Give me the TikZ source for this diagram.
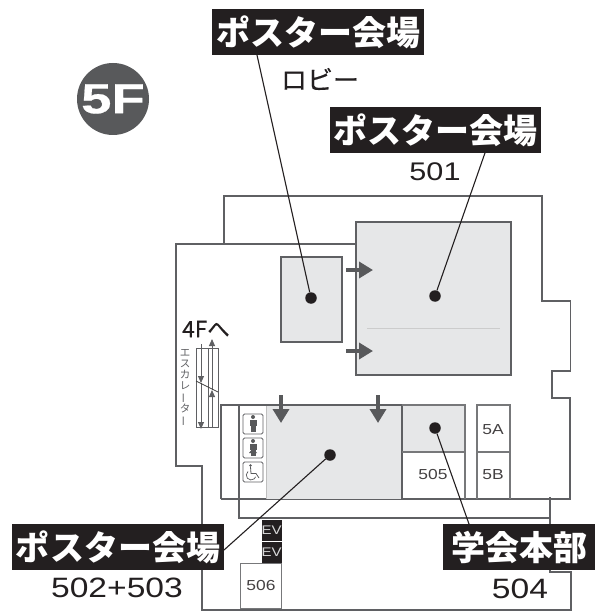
\documentclass[tikz,border=0pt]{standalone}
\usepackage{fontspec}
\usepackage{graphicx}
\newfontfamily\jpfont{Noto Sans CJK JP}
\newfontfamily\jpmid[FakeBold=0.35]{Noto Sans CJK JP}
\newfontfamily\numfont[FakeStretch=1.2]{Liberation Sans}
\newfontfamily\markfont[FakeStretch=1.3,FakeBold=0.5]{Liberation Sans}
\definecolor{wallgray}{HTML}{5F6063}
\definecolor{roomgray}{HTML}{E6E7E8}
\definecolor{markgray}{HTML}{58595B}
\definecolor{inkblack}{HTML}{231F20}
\usetikzlibrary{arrows.meta}
\tikzset{
    wall/.style={draw=wallgray,line width=1.15pt},
    thinwall/.style={draw=wallgray!85,line width=1.05pt},
    room/.style={wall,fill=roomgray},
    tag/.style={fill=inkblack,text=white,inner sep=0pt,minimum height=46pt,font=\jpfont\bfseries\fontsize{34}{34}\selectfont},
    pin/.style={circle,fill=inkblack,inner sep=0pt,minimum size=11.5pt},
    pinline/.style={draw=inkblack,line width=1.1pt},
    flow/.style={draw=markgray,line width=3.6pt,-{Triangle[length=14pt,width=16pt]}},
    number/.style={text=inkblack,inner sep=0pt,font=\numfont\fontsize{28}{28}\selectfont},
    smallnumber/.style={text=inkblack!85,inner sep=0pt,font=\numfont\fontsize{14.5}{14.5}\selectfont},
    wcbox/.style={draw=wallgray,line width=0.8pt,rounded corners=1.5pt,minimum size=20pt,inner sep=0pt},
    evbox/.style={fill=inkblack,text=white!85!black,inner sep=0pt,minimum width=19pt,minimum height=20.5pt,font=\numfont\fontsize{12.5}{12.5}\selectfont},
    lift/.style={draw=wallgray,line width=1pt},
    liftarrow/.style={draw=wallgray,line width=1pt,-{Triangle[length=7pt,width=6pt]}}
}
\newcommand{\person}[2]{%
    \fill[markgray] (#1,#2-7) circle (2);
    \fill[markgray] (#1-3.5,#2-4.5) rectangle (#1+3.5,#2+2);
    \fill[markgray] (#1-2.5,#2+2) rectangle (#1-0.4,#2+8);
    \fill[markgray] (#1+0.4,#2+2) rectangle (#1+2.5,#2+8);
}
\begin{document}
\begin{tikzpicture}[x=1pt,y=-1pt]
    \useasboundingbox (0,0) rectangle (602,612);
    % outline of the floor
    \draw[wall] (224,244) -- (224,196) -- (542,196) -- (542,301) -- (570.5,301) -- (570.5,371) -- (552,371) -- (552,398) -- (570,398) -- (570,499) -- (221,499);
    \draw[wall] (356,244) -- (176,244) -- (176,466) -- (202,466) -- (202,610) -- (571,610) -- (571,572) -- (550,572) -- (550,497);
    \draw[wall] (239,499) -- (239,518) -- (550,518);
    % rooms
    \filldraw[room] (356,222) rectangle (511,375);
    \draw[draw=black!20,line width=0.5pt] (367,328) -- (500,328);
    \filldraw[room] (281,257) rectangle (342,342);
    \fill[roomgray] (266,405) rectangle (402,499);
    \fill[roomgray] (402,405) rectangle (465,452);
    \draw[draw=black!25,line width=0.6pt] (266,405) -- (266,499);
    \draw[wall] (221,499) -- (221,405) -- (402,405) -- (402,499);
    \draw[wall] (239,405) -- (239,499);
    \draw[thinwall] (402,405) -- (465,405) -- (465,499);
    \draw[thinwall] (402,452) -- (465,452);
    \draw[thinwall] (477,499) -- (477,405) -- (510,405) -- (510,499);
    \draw[thinwall] (477,452) -- (510,452);
    \node[smallnumber] (num505) at (433,475) {505};
    \node[smallnumber] (num5A) at (493,430) {5A};
    \node[smallnumber] (num5B) at (493,475) {5B};
    % lifts and room 506
    \node[evbox] (evtop) at (271.5,530.5) {EV};
    \node[evbox] (evlow) at (271.5,552.5) {EV};
    \node[thinwall,minimum width=41pt,minimum height=45pt,inner sep=0pt,fill=white,smallnumber] (num506) at (261,586) {506};
    % way in
    \coordinate (inA) at (346,270);
    \coordinate (inAend) at (373,270);
    \coordinate (inB) at (346,351);
    \coordinate (inBend) at (373,351);
    \coordinate (inC) at (281,395);
    \coordinate (inCend) at (281,423);
    \coordinate (inD) at (378,395);
    \coordinate (inDend) at (378,423);
    \draw[flow] (inA) -- (inAend);
    \draw[flow] (inB) -- (inBend);
    \draw[flow] (inC) -- (inCend);
    \draw[flow] (inD) -- (inDend);
    % toilets
    \node[wcbox] (wcman) at (253,424) {};
    \node[wcbox] (wcwoman) at (253,448) {};
    \node[wcbox] (wcchair) at (253,472) {};
    \person{253}{424}
    \person{253}{448}
    \fill[markgray] (253,448) -- (249,453) -- (257,453) -- cycle;
    \fill[markgray] (250.5,465.5) circle (1.4);
    \draw[markgray,line width=0.8pt] (250.5,467) -- (251,473.5) -- (256,473.5) -- (259,478);
    \draw[markgray,line width=0.7pt] (248,471.5) arc[start angle=-130,end angle=-340,radius=4.8];
    % escalator
    \draw[lift] (196,348) rectangle (218,427);
    \draw[lift] (208,348) -- (208,427);
    \coordinate (downtop) at (201,344);
    \coordinate (downmid) at (201,383);
    \coordinate (downend) at (201,429);
    \coordinate (uptop) at (212,339);
    \coordinate (upmid) at (212,390);
    \coordinate (upend) at (212,427);
    \draw[liftarrow] (downtop) -- (downmid);
    \draw[liftarrow] (downmid) -- (downend);
    \draw[liftarrow] (upend) -- (upmid);
    \draw[liftarrow] (upmid) -- (uptop);
    \draw[draw=black!75,line width=0.8pt] (196,381) -- (218,392);
    \node[text=wallgray,inner sep=0pt,align=center,font=\jpfont\fontsize{10.5}{11}\selectfont] (esclabel) at (185,388) {エ\\ス\\カ\\レ\\\rotatebox[origin=c]{90}{ー}\\タ\\\rotatebox[origin=c]{90}{ー}};
    \node[text=inkblack,inner sep=0pt,font=\jpmid\fontsize{22.5}{22.5}\selectfont] (tofour) at (206,329) {4Fへ};
    % floor mark
    \node[circle,fill=markgray,text=white,minimum size=72pt,inner sep=0pt,font=\markfont\bfseries\fontsize{42}{42}\selectfont] (floormark) at (113,99) {5F};
    % pins
    \node[pin] (pinlobby) at (311,298) {};
    \node[pin] (pinmain) at (435,296) {};
    \node[pin] (pinlower) at (330,455) {};
    \node[pin] (pinoffice) at (435,428) {};
    \coordinate (endlobby) at (257,55);
    \coordinate (endmain) at (486,150);
    \coordinate (endlower) at (224,550);
    \coordinate (endoffice) at (469,524);
    \draw[pinline] (pinlobby) -- (endlobby);
    \draw[pinline] (pinmain) -- (endmain);
    \draw[pinline] (pinlower) -- (endlower);
    \draw[pinline] (pinoffice) -- (endoffice);
    % labels
    \node[tag,minimum width=212pt] (taglobby) at (318,32) {ポスター会場};
    \node[tag,minimum width=211pt] (tagmain) at (435.5,130) {ポスター会場};
    \node[tag,minimum width=212pt] (taglower) at (118,547) {ポスター会場};
    \node[tag,minimum width=152pt] (tagoffice) at (519,547) {学会本部};
    \node[text=inkblack,inner sep=0pt,font=\jpmid\fontsize{26}{26}\selectfont] (lobbytext) at (320,79) {ロビー};
    \node[number,font=\numfont\fontsize{25.5}{25.5}\selectfont] (num501) at (435,172) {501};
    \node[number] (num502) at (117,588) {502+503};
    \node[number] (num504) at (520,589) {504};
\end{tikzpicture}
\end{document}
